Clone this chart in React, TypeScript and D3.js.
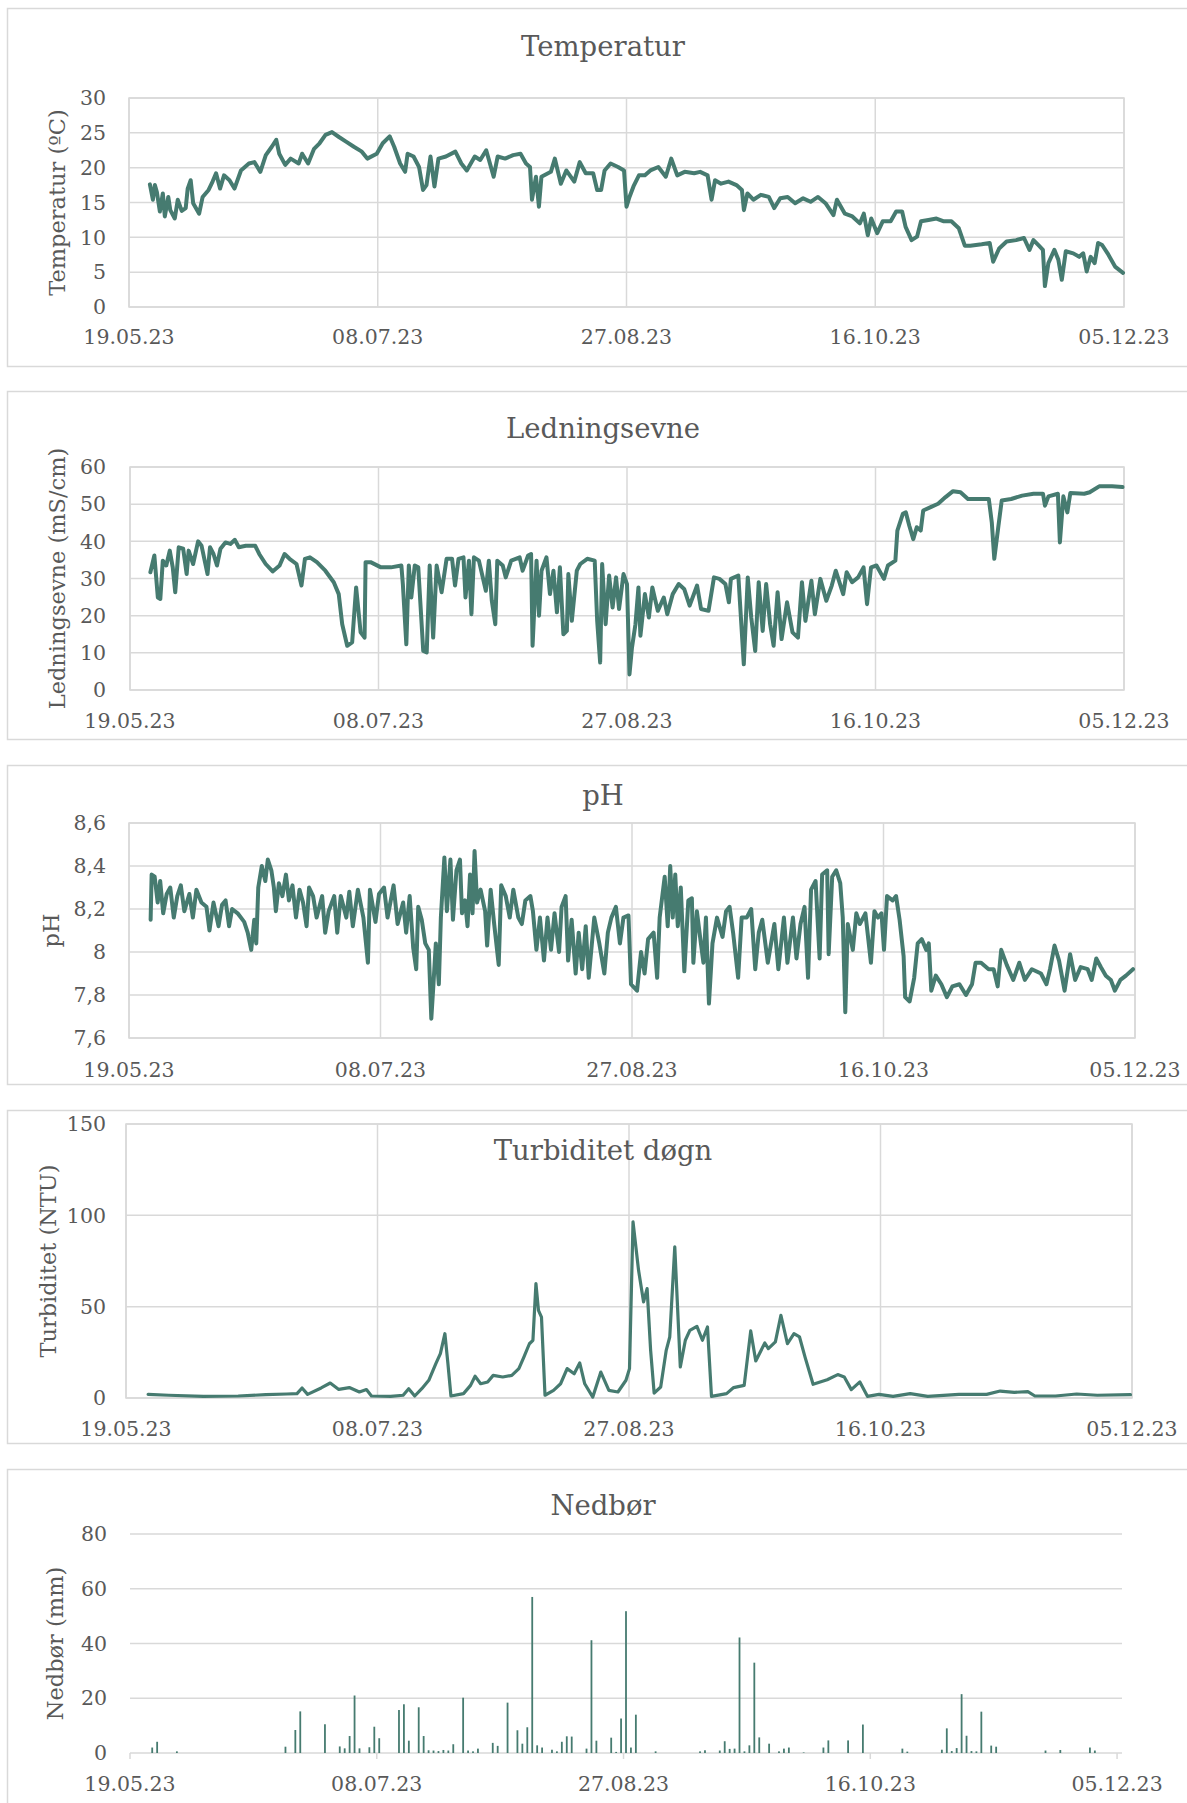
import React from "react";
import * as d3 from "d3";

// ---------- DATA (day offset from 19.05.23, value) ----------
const START_UTC = Date.UTC(2023, 4, 19);
const TOTAL_DAYS = 200; // 19.05.23 .. 05.12.23
const tickDays = [0, 50, 100, 150, 200];

const temperatur: [number, number][] = [
  [4.2,17.6],[4.8,15.4],[5.2,17.5],[5.6,16.5],[6.2,13.7],[6.8,16.3],[7.2,13.0],[7.9,15.8],[8.3,13.9],[9.2,12.7],
  [9.8,15.4],[10.6,13.8],[11.4,14.2],[11.8,17.0],[12.4,18.2],[12.9,14.9],[14.1,13.4],[14.8,15.8],[16.0,16.8],[16.8,18.0],
  [17.5,19.2],[18.3,17.0],[19.1,18.9],[20.2,18.2],[21.2,17.0],[22.5,19.6],[24.1,20.6],[25.2,20.8],[26.4,19.4],[27.5,21.8],
  [28.7,23.0],[29.6,24.0],[30.2,22.0],[31.4,20.4],[32.5,21.3],[34.1,20.6],[34.8,22.0],[36.0,20.6],[37.2,22.7],[38.3,23.5],
  [39.5,24.7],[40.8,25.1],[42.2,24.4],[43.7,23.7],[45.2,23.0],[46.8,22.3],[47.9,21.3],[49.8,22.0],[51.0,23.5],[52.4,24.5],
  [53.3,23.0],[54.5,20.6],[55.5,19.4],[56.0,22.0],[57.2,21.6],[58.3,20.1],[59.1,16.8],[59.8,17.5],[60.6,21.6],[61.4,17.3],
  [62.2,21.3],[63.7,21.6],[65.6,22.3],[66.8,20.6],[67.9,19.6],[69.5,21.6],[70.6,21.1],[71.8,22.5],[73.3,18.7],[74.1,21.6],
  [75.6,21.3],[77.2,21.8],[78.7,22.0],[79.8,20.6],[80.6,20.1],[81.0,15.4],[81.8,18.7],[82.4,14.4],[82.9,18.7],[84.8,19.4],
  [85.6,21.3],[86.8,17.7],[87.9,19.6],[89.5,18.0],[90.6,20.8],[91.8,19.2],[93.3,19.2],[94.1,16.8],[94.9,16.8],[95.6,19.6],
  [96.8,20.6],[98.3,20.1],[99.5,19.6],[100.0,14.4],[100.6,15.8],[101.4,17.3],[102.5,18.9],[103.7,18.9],[104.8,19.6],[106.4,20.1],
  [107.9,18.7],[109.0,21.3],[110.2,18.9],[111.7,19.4],[113.6,19.2],[114.8,19.4],[116.3,18.9],[117.1,15.4],[117.8,18.2],[119.0,17.7],
  [120.5,18.0],[122.1,17.5],[123.2,16.8],[123.6,13.9],[124.3,16.3],[125.5,15.4],[127.0,16.1],[128.6,15.8],[129.7,14.2],[130.9,15.6],
  [132.4,15.8],[133.9,14.9],[135.5,15.6],[137.0,15.1],[138.5,15.8],[140.0,14.9],[141.6,13.2],[142.3,15.4],[143.9,13.4],[145.4,13.0],
  [146.9,12.0],[147.7,13.4],[148.5,10.3],[149.2,12.7],[150.4,10.6],[151.5,12.3],[153.1,12.3],[154.2,13.7],[155.4,13.7],[156.1,11.5],
  [157.3,9.6],[158.4,10.1],[159.2,12.3],[160.7,12.5],[162.3,12.7],[163.8,12.3],[165.3,12.3],[166.8,11.3],[168.0,8.8],[169.1,8.8],
  [171.4,9.0],[173.0,9.2],[173.7,6.5],[174.9,8.4],[176.4,9.4],[178.3,9.6],[179.9,9.9],[181.0,8.2],[181.8,9.6],[182.9,8.8],
  [183.7,8.2],[184.1,3.0],[184.8,6.3],[186.0,8.2],[186.8,6.8],[187.5,3.9],[188.3,8.0],[189.8,7.7],[191.0,7.2],[191.8,7.7],
  [192.5,5.1],[193.3,7.2],[194.1,6.3],[194.8,9.2],[195.6,8.9],[196.7,7.7],[198.2,5.8],[199.8,4.9],
];

const ledningsevne: [number, number][] = [
  [4.1,31.7],[4.9,36.2],[5.6,24.9],[6.1,24.5],[6.6,34.8],[7.3,33.5],[8.0,37.5],[8.6,33.0],[9.1,26.3],[9.8,38.4],
  [10.7,38.0],[11.4,31.2],[11.8,37.5],[12.7,33.9],[13.7,40.0],[14.4,38.8],[15.6,31.2],[16.1,38.4],[16.8,36.6],[17.5,33.5],
  [18.2,38.0],[19.2,39.7],[20.2,39.3],[21.1,40.4],[21.9,38.4],[23.3,38.8],[25.2,38.8],[26.0,36.6],[27.3,33.9],[28.7,31.9],
  [30.1,33.5],[31.1,36.6],[32.1,35.3],[33.5,33.9],[34.5,28.1],[35.2,35.3],[36.2,35.7],[37.6,34.4],[39.3,32.1],[41.0,29.0],
  [42.0,25.8],[42.7,17.7],[43.7,11.9],[44.7,12.8],[45.5,27.6],[46.4,15.5],[47.2,14.1],[47.4,34.4],[48.4,34.4],[50.5,33.0],
  [52.5,33.0],[54.6,33.5],[54.9,28.5],[55.6,12.3],[56.1,33.5],[56.6,24.9],[57.3,33.5],[58.0,33.0],[59.0,10.5],[59.7,10.1],
  [60.3,33.5],[61.0,14.1],[61.7,33.5],[62.7,26.3],[63.7,35.3],[64.8,35.3],[65.4,28.1],[66.1,35.3],[67.1,35.7],[67.5,24.9],
  [68.2,34.8],[68.7,20.4],[69.2,35.7],[70.2,34.8],[71.6,26.7],[72.2,34.8],[72.8,24.0],[73.5,17.7],[73.9,34.8],[75.0,33.5],
  [75.6,30.3],[76.7,34.8],[78.4,35.7],[79.0,32.1],[80.1,36.2],[80.7,36.6],[81.0,11.9],[81.8,34.8],[82.3,20.0],[82.8,32.1],
  [83.8,35.7],[84.5,25.8],[85.2,32.1],[85.9,20.9],[86.5,33.0],[87.2,15.0],[87.9,15.9],[88.2,31.2],[88.9,18.6],[89.9,32.1],
  [90.6,33.9],[92.0,35.3],[93.5,34.8],[94.0,18.6],[94.6,7.4],[95.0,33.9],[95.7,17.7],[96.4,30.8],[97.1,22.2],[97.8,30.3],
  [98.4,21.8],[99.3,31.2],[100.0,28.5],[100.5,4.2],[101.0,11.4],[101.7,17.7],[102.3,27.6],[102.7,14.6],[103.6,25.8],[104.4,19.5],
  [105.1,27.6],[106.2,21.3],[107.4,24.9],[108.1,20.4],[109.2,25.8],[110.4,28.5],[111.5,27.2],[112.6,22.7],[114.1,28.1],[114.9,21.8],
  [116.4,21.3],[117.5,30.3],[118.6,29.9],[119.8,28.5],[120.5,23.6],[120.9,29.9],[122.4,30.8],[123.5,6.9],[124.3,30.3],[125.0,19.5],
  [125.8,10.5],[126.5,29.0],[127.3,15.9],[128.0,28.5],[128.8,17.7],[129.5,11.9],[130.3,26.3],[131.1,13.7],[132.2,23.6],[133.3,15.5],
  [134.4,14.1],[135.2,29.0],[135.9,18.6],[137.1,29.4],[137.8,20.4],[138.9,29.9],[140.1,24.0],[141.2,28.1],[142.0,32.1],[143.5,25.8],
  [144.2,31.7],[145.3,29.0],[146.5,30.3],[147.6,33.0],[148.3,23.1],[149.1,33.0],[150.2,33.5],[151.7,29.9],[152.5,33.5],[154.0,34.8],
  [154.4,42.9],[155.5,47.4],[156.1,47.8],[156.8,44.2],[157.6,40.6],[158.3,43.8],[159.1,42.9],[159.6,48.3],[161.1,49.2],[162.6,50.1],
  [164.1,51.9],[165.6,53.5],[167.1,53.2],[168.6,51.4],[170.5,51.4],[172.8,51.4],[173.4,45.1],[173.9,35.3],[174.7,43.8],[175.4,51.0],
  [177.3,51.4],[179.5,52.3],[181.8,52.8],[183.7,52.8],[184.1,49.6],[184.8,52.1],[186.7,52.8],[187.1,39.7],[187.8,52.1],[188.6,47.8],
  [189.2,53.0],[192.0,52.8],[193.1,53.2],[195.0,54.8],[197.6,54.8],[199.7,54.6],
];

const pH: [number, number][] = [
  [4.3,8.15],[4.5,8.36],[5.1,8.35],[5.7,8.23],[6.2,8.33],[6.8,8.18],[7.5,8.27],[8.2,8.30],[8.9,8.16],[9.6,8.26],
  [10.3,8.31],[11.0,8.19],[12.0,8.27],[12.7,8.16],[13.4,8.29],[14.4,8.23],[15.4,8.21],[16.0,8.10],[16.8,8.23],[17.8,8.12],
  [18.5,8.22],[19.2,8.24],[19.9,8.12],[20.5,8.20],[21.6,8.18],[22.9,8.14],[23.6,8.09],[24.3,8.01],[24.9,8.15],[25.3,8.04],
  [25.7,8.30],[26.4,8.40],[27.1,8.33],[27.6,8.43],[28.3,8.38],[28.8,8.30],[29.2,8.19],[29.8,8.32],[30.5,8.26],[31.2,8.36],
  [31.8,8.24],[32.5,8.31],[33.2,8.16],[33.9,8.29],[34.6,8.23],[35.3,8.12],[35.8,8.30],[36.6,8.26],[37.3,8.16],[38.4,8.26],
  [39.0,8.09],[39.7,8.19],[40.8,8.26],[41.4,8.09],[42.1,8.26],[43.2,8.16],[43.8,8.28],[44.5,8.12],[45.5,8.29],[46.6,8.16],
  [47.5,7.95],[47.9,8.29],[49.0,8.14],[49.7,8.27],[50.7,8.30],[51.4,8.16],[52.6,8.31],[53.4,8.13],[54.5,8.23],[55.1,8.09],
  [55.8,8.26],[56.5,8.02],[57.1,7.92],[57.5,8.21],[58.2,8.15],[58.9,8.04],[59.6,8.01],[60.1,7.69],[60.5,7.84],[61.0,8.04],
  [61.6,7.85],[62.0,8.16],[62.7,8.44],[63.2,8.19],[63.9,8.43],[64.4,8.15],[65.1,8.38],[65.8,8.43],[66.2,8.18],[66.8,8.24],
  [67.3,8.12],[67.8,8.36],[68.3,8.18],[68.7,8.47],[69.2,8.23],[69.9,8.29],[70.8,8.19],[71.2,8.03],[71.9,8.29],[72.6,8.13],
  [73.5,7.94],[74.0,8.31],[74.9,8.26],[75.7,8.16],[76.4,8.29],[77.4,8.16],[78.1,8.13],[78.8,8.24],[79.8,8.26],[80.3,8.19],
  [81.0,8.01],[81.7,8.16],[82.5,7.96],[83.2,8.16],[83.9,8.01],[84.6,8.18],[85.5,8.00],[86.0,8.21],[86.8,8.26],[87.3,7.96],
  [88.0,8.15],[88.8,7.90],[89.4,8.09],[90.1,7.92],[90.8,8.12],[91.4,7.88],[92.5,8.16],[93.5,8.04],[94.5,7.90],[95.2,8.09],
  [95.9,8.16],[96.8,8.21],[97.6,8.04],[98.3,8.16],[99.3,8.17],[99.8,7.85],[101.0,7.82],[101.8,8.00],[102.5,7.90],[103.2,8.06],
  [104.3,8.09],[105.0,7.88],[105.5,8.16],[106.5,8.35],[107.1,8.12],[107.6,8.40],[108.1,8.16],[108.6,8.36],[109.1,8.12],[109.7,8.30],
  [110.4,7.91],[111.2,8.24],[111.9,8.25],[112.2,7.95],[112.9,8.19],[113.7,8.04],[114.2,7.95],[114.7,8.16],[115.3,7.76],[116.0,8.04],
  [116.9,8.16],[118.0,8.07],[118.7,8.19],[119.4,8.21],[120.1,8.09],[121.1,7.88],[121.8,8.16],[122.8,8.16],[123.7,8.20],[124.5,7.92],
  [125.2,8.09],[125.9,8.15],[127.0,7.95],[128.3,8.13],[129.1,7.92],[130.2,8.16],[130.9,7.95],[132.0,8.16],[132.7,7.97],[133.5,8.13],
  [134.3,8.21],[135.0,7.88],[135.6,8.29],[136.5,8.33],[137.3,7.97],[137.8,8.36],[138.8,8.38],[139.1,7.99],[139.8,8.35],[140.6,8.38],
  [141.4,8.32],[141.9,8.16],[142.4,7.72],[142.9,8.13],[143.9,8.01],[144.6,8.18],[145.3,8.13],[146.4,8.18],[147.5,7.95],[148.2,8.19],
  [148.9,8.16],[149.6,8.18],[150.1,8.01],[150.7,8.26],[151.8,8.24],[152.5,8.26],[153.2,8.15],[154.0,7.98],[154.3,7.79],[155.2,7.77],
  [156.1,7.88],[156.8,8.04],[157.6,8.06],[158.5,8.01],[159.0,8.04],[159.5,7.82],[160.4,7.89],[161.5,7.85],[162.6,7.79],[163.7,7.84],
  [165.1,7.85],[166.4,7.80],[167.6,7.85],[168.3,7.95],[169.4,7.95],[170.9,7.92],[171.9,7.92],[172.7,7.84],[173.4,8.01],[174.5,7.94],
  [175.8,7.87],[177.0,7.95],[178.1,7.87],[179.5,7.92],[181.3,7.90],[182.4,7.85],[183.1,7.92],[184.0,8.03],[184.9,7.96],[186.0,7.82],
  [187.1,7.99],[188.1,7.87],[189.2,7.93],[190.6,7.92],[191.4,7.87],[192.3,7.97],[193.2,7.93],[194.2,7.89],[195.2,7.87],[196.0,7.82],
  [197.1,7.87],[198.2,7.89],[199.6,7.92],
];

const turbiditet: [number, number][] = [
  [4.4,2.0],[8.5,1.5],[15.4,0.9],[22.3,1.1],[27.8,1.8],[32.0,2.2],[34.0,2.4],[35.0,5.5],[36.1,2.0],[38.8,5.5],
  [40.6,8.2],[42.3,4.7],[44.4,5.7],[46.4,3.3],[47.8,4.6],[48.8,1.1],[52.6,0.9],[55.1,1.5],[56.2,5.1],[57.4,1.1],
  [58.8,5.1],[60.2,9.7],[61.6,18.8],[62.5,24.3],[63.4,35.2],[64.0,18.8],[64.6,1.1],[67.1,2.4],[68.5,6.9],[69.4,11.9],
  [70.5,7.8],[71.9,8.8],[73.0,12.4],[74.9,11.5],[76.7,12.4],[78.1,16.1],[79.1,22.4],[80.2,29.7],[80.9,31.6],[81.5,62.6],
  [82.0,48.0],[82.6,44.3],[83.3,1.5],[85.0,4.2],[86.4,7.8],[87.7,16.1],[89.1,13.3],[90.2,19.2],[91.2,7.8],[92.8,0.5],
  [94.4,14.2],[96.0,4.2],[97.8,3.3],[99.4,9.7],[100.1,16.1],[100.8,96.4],[101.9,69.9],[102.9,52.6],[103.6,59.9],[104.3,26.1],
  [105.0,2.7],[106.3,6.0],[107.4,26.1],[108.1,33.4],[109.1,82.7],[110.2,17.0],[111.2,31.6],[112.1,37.0],[113.5,39.2],[114.6,31.6],
  [115.6,38.9],[116.4,0.9],[119.4,2.4],[120.8,5.7],[122.9,6.9],[124.2,36.7],[125.2,20.3],[127.0,30.1],[127.7,27.0],[129.1,30.7],
  [130.2,45.3],[131.5,29.7],[132.8,35.2],[133.9,33.4],[135.0,22.4],[136.6,7.5],[139.4,10.0],[141.5,12.8],[142.8,11.5],[144.2,4.6],
  [145.9,8.8],[147.4,0.9],[149.7,2.0],[152.5,0.9],[155.9,2.4],[159.4,0.9],[165.6,2.0],[171.1,2.0],[173.8,3.8],[176.6,3.1],
  [179.3,3.5],[180.7,1.1],[184.8,1.1],[189.0,2.2],[193.1,1.5],[199.7,1.8],
];

const nedborDays = [
  4,5,9,31,33,34,39,42,43,44,45,46,48,49,50,54,55,56,58,59,60,61,62,63,64,65,67,68,69,70,73,74,76,78,79,80,81,82,83,85,
  86,87,88,89,92,93,94,97,98,99,100,101,102,106,115,116,119,120,121,122,123,124,125,126,127,129,131,132,133,136,140,141,
  145,148,156,157,164,165,166,167,168,169,170,171,172,174,175,185,188,194,195,
];
const nedborValues = [
  2.0,4.1,0.6,2.3,8.4,15.2,10.5,2.4,1.7,6.2,21.0,1.7,2.1,9.6,5.4,15.7,17.8,4.5,16.7,6.2,1.0,0.9,0.7,1.1,0.9,3.2,20.2,0.9,0.6,1.6,
  3.7,2.6,18.4,8.3,3.4,9.4,57.0,2.8,2.0,1.2,0.6,4.1,6.1,6.0,1.6,41.2,4.5,5.6,0.4,12.6,51.8,2.0,14.0,0.6,0.6,1.0,0.9,4.3,1.5,1.6,
  42.2,0.6,2.8,33.0,5.7,3.4,0.6,1.6,2.0,0.2,2.0,4.6,4.6,10.4,1.6,0.5,1.2,9.0,0.7,1.8,21.5,6.3,0.7,0.6,15.1,2.7,2.3,0.9,1.1,2.0,0.9,
];

// ---------- STYLE ----------
const W = 1187;
const H = 1803;
const FONT = "'DejaVu Serif', Georgia, serif";
const TEXT = "#595959";
const GRID = "#d9d9d9";
const LINE = "#467b70";
const DAY_MS = 86400000;

const toDate = (d: number) => new Date(START_UTC + d * DAY_MS);
const fmtDate = d3.utcFormat("%d.%m.%y");
const fmtComma = (v: number) => String(+v.toFixed(1)).replace(".", ",");

type Spec = {
  frame: [number, number];
  x0: number; x1: number; y0: number; y1: number;
  title: string; titleY: number;
  yTitle: string; yTitleX: number;
  xLabelY: number;
  yMin: number; yMax: number; yStep: number;
  fmt: (v: number) => string;
  data?: [number, number][];
  lineWidth?: number;
  bars?: boolean;
};

const TITLE_X = 603;
const YTICK_X = 106;

function Frame({ top, bottom }: { top: number; bottom: number }) {
  return (
    <rect x={7.5} y={top + 0.5} width={W + 20} height={bottom - top}
      fill="#fff" stroke={GRID} strokeWidth={1.5} />
  );
}

function LinePanel({ s }: { s: Spec }) {
  const x = d3.scaleUtc().domain([toDate(0), toDate(TOTAL_DAYS)]).range([s.x0, s.x1]);
  const y = d3.scaleLinear().domain([s.yMin, s.yMax]).range([s.y1, s.y0]);
  const yTicks = d3.range(s.yMin, s.yMax + s.yStep / 2, s.yStep);
  const line = d3.line<[number, number]>()
    .x((d) => x(toDate(d[0])))
    .y((d) => y(d[1]));
  return (
    <g>
      <Frame top={s.frame[0]} bottom={s.frame[1]} />
      {yTicks.map((t) => (
        <line key={"g" + t} x1={s.x0} x2={s.x1} y1={y(t)} y2={y(t)} stroke={GRID} strokeWidth={1.5} />
      ))}
      {tickDays.map((d) => (
        <line key={"v" + d} x1={x(toDate(d))} x2={x(toDate(d))} y1={s.y0} y2={s.y1} stroke={GRID} strokeWidth={1.5} />
      ))}
      <rect x={s.x0} y={s.y0} width={s.x1 - s.x0} height={s.y1 - s.y0} fill="none" stroke={GRID} strokeWidth={1.5} />
      <text x={TITLE_X} y={s.titleY} textAnchor="middle" fontSize={27.5} fill={TEXT}>{s.title}</text>
      {s.data && (
        <path d={line(s.data) || ""} fill="none" stroke={LINE} strokeWidth={s.lineWidth || 4}
          strokeLinejoin="round" strokeLinecap="round" />
      )}
      {yTicks.map((t) => (
        <text key={"t" + t} x={YTICK_X} y={y(t)} dy="0.35em" textAnchor="end" fontSize={20.5} fill={TEXT}>{s.fmt(t)}</text>
      ))}
      {tickDays.map((d) => (
        <text key={"x" + d} x={x(toDate(d))} y={s.xLabelY} textAnchor="middle" fontSize={20.5} fill={TEXT}>
          {fmtDate(toDate(d))}
        </text>
      ))}
      <text transform={`translate(${s.yTitleX},${(s.y0 + s.y1) / 2}) rotate(-90)`} textAnchor="middle"
        dominantBaseline="central" fontSize={22.5} fill={TEXT}>{s.yTitle}</text>
    </g>
  );
}

function BarPanel({ s }: { s: Spec }) {
  const days = d3.range(0, TOTAL_DAYS + 1);
  const x = d3.scaleBand<number>().domain(days).range([s.x0, s.x1]);
  const y = d3.scaleLinear().domain([s.yMin, s.yMax]).range([s.y1, s.y0]);
  const yTicks = d3.range(s.yMin, s.yMax + s.yStep / 2, s.yStep);
  const bw = 1.8;
  return (
    <g>
      <Frame top={s.frame[0]} bottom={s.frame[1]} />
      {yTicks.map((t) => (
        <line key={"g" + t} x1={s.x0} x2={s.x1} y1={y(t)} y2={y(t)} stroke={GRID} strokeWidth={1.5} />
      ))}
      {tickDays.map((d) => (
        <line key={"k" + d} x1={x(d)!} x2={x(d)!} y1={s.y1} y2={s.y1 + 6} stroke={GRID} strokeWidth={1.5} />
      ))}
      <text x={TITLE_X} y={s.titleY} textAnchor="middle" fontSize={27.5} fill={TEXT}>{s.title}</text>
      {nedborDays.map((d, i) => (
        <rect key={"b" + d} x={x(d)! + x.bandwidth() / 2 - bw / 2} y={y(nedborValues[i])} width={bw}
          height={y(0) - y(nedborValues[i])} fill={LINE} />
      ))}
      {yTicks.map((t) => (
        <text key={"t" + t} x={YTICK_X + 1} y={y(t)} dy="0.35em" textAnchor="end" fontSize={20.5} fill={TEXT}>{s.fmt(t)}</text>
      ))}
      {tickDays.map((d) => (
        <text key={"x" + d} x={x(d)!} y={s.xLabelY} textAnchor="middle" fontSize={20.5} fill={TEXT}>
          {fmtDate(toDate(d))}
        </text>
      ))}
      <text transform={`translate(${s.yTitleX},${(s.y0 + s.y1) / 2}) rotate(-90)`} textAnchor="middle"
        dominantBaseline="central" fontSize={22.5} fill={TEXT}>{s.yTitle}</text>
    </g>
  );
}

const intFmt = (v: number) => String(v);

const specs: Spec[] = [
  { frame: [8, 366], x0: 129, x1: 1124, y0: 98, y1: 307, title: "Temperatur", titleY: 56,
    yTitle: "Temperatur (ºC)", yTitleX: 57, xLabelY: 344, yMin: 0, yMax: 30, yStep: 5, fmt: intFmt, data: temperatur },
  { frame: [391, 739], x0: 130, x1: 1124, y0: 467, y1: 690, title: "Ledningsevne", titleY: 438,
    yTitle: "Ledningsevne (mS/cm)", yTitleX: 57, xLabelY: 728, yMin: 0, yMax: 60, yStep: 10, fmt: intFmt, data: ledningsevne },
  { frame: [765, 1084], x0: 129, x1: 1135, y0: 823, y1: 1038, title: "pH", titleY: 805,
    yTitle: "pH", yTitleX: 51, xLabelY: 1077, yMin: 7.6, yMax: 8.6, yStep: 0.2, fmt: fmtComma, data: pH },
  { frame: [1110, 1443], x0: 126, x1: 1132, y0: 1124, y1: 1398, title: "Turbiditet døgn", titleY: 1160,
    yTitle: "Turbiditet (NTU)", yTitleX: 48, xLabelY: 1436, yMin: 0, yMax: 150, yStep: 50, fmt: intFmt,
    data: turbiditet, lineWidth: 3.2 },
  { frame: [1469, 1812], x0: 130, x1: 1122, y0: 1534, y1: 1753, title: "Nedbør", titleY: 1515,
    yTitle: "Nedbør (mm)", yTitleX: 55, xLabelY: 1791, yMin: 0, yMax: 80, yStep: 20, fmt: intFmt, bars: true },
];

export default function App() {
  return (
    <svg width={W} height={H} viewBox={`0 0 ${W} ${H}`}
      style={{ position: "absolute", left: 0, top: 0, background: "#fff" }} fontFamily={FONT}>
      <rect x={0} y={0} width={W} height={H} fill="#fff" />
      {specs.map((s, i) => (s.bars ? <BarPanel key={i} s={s} /> : <LinePanel key={i} s={s} />))}
    </svg>
  );
}
